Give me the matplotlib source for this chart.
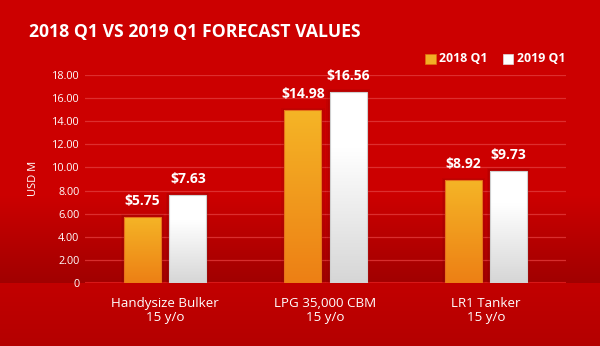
import numpy as np
import matplotlib
matplotlib.use("Agg")
import matplotlib.pyplot as plt
from matplotlib.patches import Rectangle

plt.rcParams['font.family'] = ['Open Sans', 'DejaVu Sans']

categories = ["Handysize Bulker\n15 y/o", "LPG 35,000 CBM\n15 y/o", "LR1 Tanker\n15 y/o"]
series_names = ["2018 Q1", "2019 Q1"]
values_2018 = [5.75, 14.98, 8.92]
values_2019 = [7.63, 16.56, 9.73]
yticks = [0, 2, 4, 6, 8, 10, 12, 14, 16, 18]
ytick_labels = ["0", "2.00", "4.00", "6.00", "8.00", "10.00", "12.00", "14.00", "16.00", "18.00"]

W, H = 600, 346
fig = plt.figure(figsize=(W / 100, H / 100), dpi=100)
fig.patch.set_facecolor("#CC0000")

# background gradient
bg = fig.add_axes([0, 0, 1, 1], zorder=-10)
bg.axis("off")
rows = np.zeros((H, 1, 3))
for y in range(H):
    if y < 195:
        c = (204, 0, 0)
    elif y < 283:
        t = (y - 195) / (283 - 195)
        c = (204 - 44 * t, 0, 0)
    else:
        t = (y - 283) / (H - 283)
        c = (194 - 14 * t, 0, 0)
    rows[y, 0] = np.array(c) / 255
bg.imshow(rows, aspect="auto", extent=[0, 1, 0, 1], origin="upper")
bg.set_xlim(0, 1); bg.set_ylim(0, 1)

# main axes: x 85..566 px, y 75..283 px (from top)
left, right, top, bottom = 85, 566, 75, 283
ax = fig.add_axes([left / W, 1 - bottom / H, (right - left) / W, (bottom - top) / H])
ax.patch.set_alpha(0)
ax.set_xlim(-0.5, 2.5)
ax.set_ylim(0, 18)
for s in ax.spines.values():
    s.set_visible(False)
ax.set_yticks(yticks)
ax.set_yticklabels(ytick_labels, color="white", fontsize=7.8)
ax.tick_params(axis="y", length=0, pad=4)
ax.grid(axis="y", color="#E23A3A", linewidth=0.9, alpha=0.8)
ax.set_axisbelow(True)
ax.axhline(0, color="#D81818", linewidth=1.5, zorder=1)

x = np.arange(len(categories))
bw = 0.23
off = 0.141

def grad_bars(bars, top_col, bot_col, edge, start=0.0):
    for b in bars:
        bx, by = b.get_x(), b.get_y()
        bwid, bh = b.get_width(), b.get_height()
        for k, a in [(0.02, 0.08), (0.012, 0.1)]:
            ax.add_patch(Rectangle((bx - k, by), bwid + 2 * k, bh + k * 10,
                                   facecolor="#600000", alpha=a, edgecolor="none", zorder=2))
        g = np.clip((np.linspace(0, 1, 100) - start) / (1 - start), 0, 1)[:, None, None]
        img = np.array(top_col)[None, None, :] * (1 - g) + np.array(bot_col)[None, None, :] * g
        im = ax.imshow(img, extent=[bx, bx + bwid, by, by + bh], aspect="auto",
                       origin="upper", zorder=3)
        im.set_clip_path(b)
        b.set_edgecolor(edge)
        b.set_linewidth(0.8)

bars1 = ax.bar(x - off, values_2018, bw, facecolor="none", zorder=4, label=series_names[0])
bars2 = ax.bar(x + off, values_2019, bw, facecolor="none", zorder=4, label=series_names[1])
grad_bars(bars1, (0.96, 0.71, 0.15), (0.93, 0.50, 0.08), "#E8701A")
grad_bars(bars2, (1, 1, 1), (0.84, 0.84, 0.84), "#D0D0D0", start=0.3)
ax.set_xlim(-0.5, 2.5)
ax.set_ylim(0, 18)

for bars, vals in [(bars1, values_2018), (bars2, values_2019)]:
    for b, v in zip(bars, vals):
        ax.annotate(f"${v:.2f}", (b.get_x() + b.get_width() / 2, v),
                    xytext=(0, 6.5), textcoords="offset points", ha="center", va="bottom",
                    color="white", fontsize=10, fontweight="bold", zorder=6)

ax.set_xticks(x)
ax.set_xticklabels(categories, color="white", fontsize=9.6, linespacing=1.15)
ax.tick_params(axis="x", length=0, pad=10)

fig.text(33 / W, 1 - 178 / H, "USD M", rotation=90, color="white", fontsize=8,
         ha="center", va="center")

fig.text(29 / W, 1 - 32 / H, "2018 Q1 VS 2019 Q1 FORECAST VALUES", color="white",
         fontsize=12.7, fontweight="bold", ha="left", va="center")

# legend
for (sx, col, lab, tx) in [(425.5, "#F2AE25", series_names[0], 439),
                           (503, "#FFFFFF", series_names[1], 517)]:
    fig.patches.append(Rectangle((sx / W, 1 - 64 / H), 10 / W, 10 / H, transform=fig.transFigure,
                                 facecolor=col, edgecolor="#E07010" if col != "#FFFFFF" else "#DDDDDD",
                                 linewidth=0.5))
    fig.text(tx / W, 1 - 58.5 / H, lab, color="white", fontsize=8.9, fontweight="bold",
             ha="left", va="center")

fig.savefig("out.png", dpi=100, facecolor=fig.get_facecolor())
